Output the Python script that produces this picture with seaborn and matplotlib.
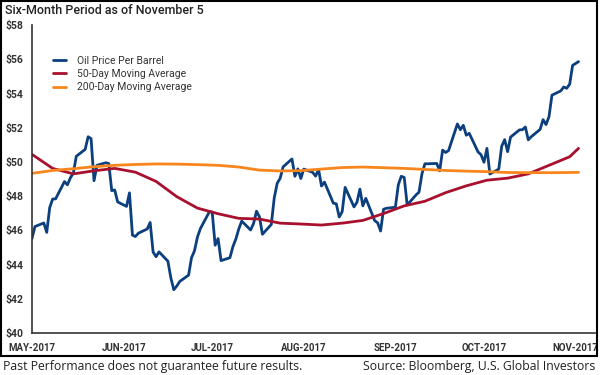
import pandas as pd
import seaborn as sns
import matplotlib.pyplot as plt
from matplotlib.patches import Rectangle

# oil price, every weekday May 4 - Nov 3 2017, then Nov 5
price_dates = list(pd.bdate_range("2017-05-04", "2017-11-03")) + [pd.Timestamp("2017-11-05")]
oil_price = [
    45.52, 46.22, 46.43, 45.88, 47.33, 47.83, 47.84, 48.85, 48.66, 49.07,
    49.35, 50.33, 50.73, 51.47, 51.36, 48.90, 49.80, 49.95, 49.90, 48.32,
    48.36, 47.66, 47.40, 48.19, 45.72, 45.64, 45.83, 46.08, 46.46, 44.73,
    44.46, 44.74, 44.20, 43.23, 42.53, 42.74, 43.01, 43.38, 44.40, 44.80,
    45.60, 46.10, 47.07, 47.07, 45.13, 45.52, 44.23, 44.40, 45.04, 45.49,
    46.08, 46.54, 46.02, 46.40, 47.12, 46.79, 45.77, 46.34, 47.89, 48.75,
    49.04, 49.71, 50.17, 49.16, 49.59, 49.03, 49.58, 49.39, 49.17, 49.56,
    48.59, 48.82, 47.59, 47.55, 46.78, 47.09, 48.51, 47.37, 47.64, 48.41,
    47.43, 47.87, 46.57, 46.44, 45.96, 47.23, 47.29, 47.35, 48.66, 49.16,
    49.09, 47.48, 48.07, 48.23, 49.30, 49.89, 49.89, 49.91, 49.48, 50.69,
    50.55, 50.66, 52.22, 51.88, 52.14, 51.56, 51.67, 50.58, 50.42, 49.98,
    50.79, 49.29, 49.58, 50.92, 51.30, 50.60, 51.45, 51.87, 51.88, 52.04,
    51.29, 51.47, 51.90, 52.47, 52.18, 52.64, 53.90, 54.15, 54.38, 54.30,
    54.54, 55.64, 55.86,
]

# moving averages
ma_dates = list(pd.date_range("2017-05-04", "2017-11-02", freq="7D")) + [pd.Timestamp("2017-11-05")]
ma_50 = [
    50.44, 49.62, 49.30, 49.48, 49.62, 49.40, 48.86, 47.97, 47.30, 46.97,
    46.70, 46.66, 46.42, 46.37, 46.31, 46.42, 46.58, 46.98, 47.43, 47.70,
    48.20, 48.60, 48.93, 49.05, 49.30, 49.80, 50.30, 50.79,
]
ma_200 = [
    49.33, 49.50, 49.60, 49.72, 49.80, 49.85, 49.88, 49.87, 49.84, 49.80,
    49.70, 49.52, 49.47, 49.49, 49.58, 49.67, 49.70, 49.66, 49.62, 49.56,
    49.50, 49.46, 49.43, 49.38, 49.37, 49.37, 49.38, 49.39,
]

month_ticks = pd.to_datetime(["2017-05-04", "2017-06-04", "2017-07-04", "2017-08-04",
                              "2017-09-04", "2017-10-04", "2017-11-04"])
month_labels = ["MAY-2017", "JUN-2017", "JUL-2017", "AUG-2017", "SEP-2017", "OCT-2017", "NOV-2017"]
y_ticks = [40, 42, 44, 46, 48, 50, 52, 54, 56, 58]

sns.set_style("white")
plt.rcParams['font.family'] = ['Roboto', 'DejaVu Sans']

fig = plt.figure(figsize=(6, 3.75), dpi=100)
ax = fig.add_axes([0.0533, 0.112, 0.9384, 0.8213])

sns.lineplot(x=price_dates, y=oil_price, ax=ax, color="#0b3f7e", linewidth=2.0,
             label="Oil Price Per Barrel")
sns.lineplot(x=ma_dates, y=ma_50, ax=ax, color="#a8102e", linewidth=2.0,
             label="50-Day Moving Average")
sns.lineplot(x=ma_dates, y=ma_200, ax=ax, color="#f8861c", linewidth=2.0,
             label="200-Day Moving Average")

ax.set_ylim(40, 58)
ax.set_xlim(pd.Timestamp("2017-05-04"), pd.Timestamp("2017-11-10 14:00"))
ax.set_yticks(y_ticks)
ax.set_yticklabels(["$%d" % v for v in y_ticks])
ax.set_xticks(month_ticks)
ax.set_xticklabels(month_labels)
ax.set_xlabel("")
ax.set_ylabel("")

for side in ["top", "right"]:
    ax.spines[side].set_visible(False)
for side in ["left", "bottom"]:
    ax.spines[side].set_color("#333333")
    ax.spines[side].set_linewidth(1.2)
ax.tick_params(axis="both", direction="out", length=4, width=1.2, color="#333333",
               labelcolor="#333333")
ax.tick_params(axis="y", labelsize=7.5, pad=2)
ax.tick_params(axis="x", labelsize=7, pad=3)
for lab in ax.get_xticklabels() + ax.get_yticklabels():
    lab.set_fontweight("bold")

leg = ax.legend(loc="upper left", bbox_to_anchor=(0.02, 0.93), frameon=False,
                fontsize=7.5, handlelength=1.3, handletextpad=1.0, labelspacing=0.3)
for t in leg.get_texts():
    t.set_color("#333333")

fig.text(0.008, 0.972, "Six-Month Period as of November 5", fontsize=9,
         fontweight="medium", color="#222222", va="center", ha="left")
fig.patches.append(Rectangle((0.002, 0.05), 0.993, 0.947, transform=fig.transFigure,
                             fill=False, edgecolor="black", linewidth=1.5))
fig.text(0.005, 0.022, "Past Performance does not guarantee future results.",
         fontsize=8.8, family=["Open Sans", "DejaVu Sans"], color="#222222",
         va="center", ha="left")
fig.text(0.993, 0.022, "Source: Bloomberg, U.S. Global Investors",
         fontsize=8.8, family=["Open Sans", "DejaVu Sans"], color="#222222",
         va="center", ha="right")

fig.savefig("out.png", dpi=100)
